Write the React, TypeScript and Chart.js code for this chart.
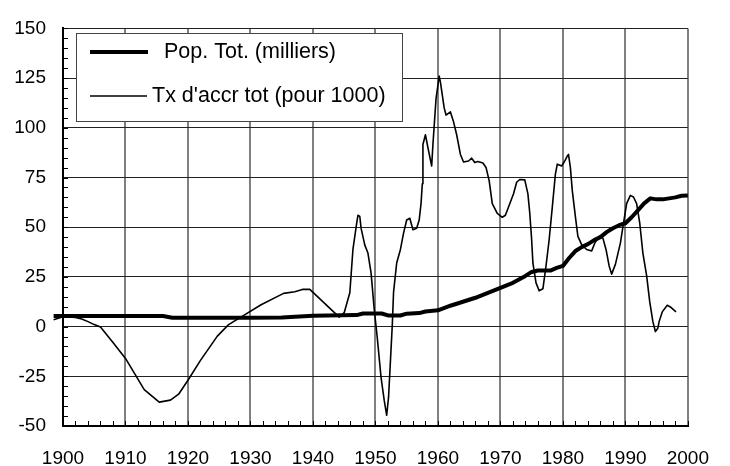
import React, { useEffect, useRef } from 'react';
import { Chart, registerables } from 'chart.js';

Chart.register(...registerables);

const xTickStart = 1900;
const xTickEnd = 2000;
const xTickStep = 10;
const yTickMin = -50;
const yTickMax = 150;
const yTickStep = 25;

const seriesLabels = ['Pop. Tot. (milliers)', "Tx d'accr tot (pour 1000)"];

const popYears = [1898.5, 1900, 1910, 1916, 1917.5, 1930, 1935, 1940, 1947, 1948, 1951, 1952, 1954, 1955, 1957, 1958, 1960, 1962, 1964, 1966, 1968, 1970, 1972, 1974, 1975, 1976, 1978, 1979, 1980, 1981, 1982, 1983, 1984, 1985, 1986, 1987, 1988, 1989, 1990, 1991, 1992, 1993, 1994, 1995, 1996, 1997, 1998, 1999, 2000];
const popValues = [5.3, 5.3, 5.3, 5.3, 4.5, 4.5, 4.6, 5.5, 5.8, 6.6, 6.6, 5.6, 5.6, 6.5, 6.8, 7.6, 8.2, 10.5, 12.5, 14.5, 17, 19.5, 22, 25.5, 27.5, 28.2, 28.2, 29.5, 30.5, 34.5, 38, 40, 41.5, 43.5, 45, 47.5, 49.5, 51, 52, 55, 58.5, 62, 64.5, 64, 64, 64.5, 65, 65.8, 66];

const txYears = [1898.5, 1900, 1902, 1903, 1904, 1905, 1906, 1908, 1910, 1913, 1915.4, 1917.2, 1918.5, 1920, 1922, 1924.7, 1926.5, 1928.6, 1931.7, 1935.3, 1937.1, 1938.3, 1939.5, 1944.2, 1945, 1945.9, 1946.4, 1947, 1947.2, 1947.5, 1947.7, 1948.3, 1948.8, 1949.3, 1949.8, 1950.3, 1950.9, 1951.4, 1951.8, 1952.1, 1952.4, 1952.7, 1952.9, 1953.4, 1954, 1954.5, 1955, 1955.5, 1956, 1956.6, 1957, 1957.3, 1957.5, 1957.6, 1958, 1958.4, 1959, 1959.2, 1959.7, 1960.2, 1960.4, 1961, 1961.3, 1962, 1962.5, 1963, 1963.6, 1964.1, 1964.9, 1965.4, 1965.9, 1966.4, 1967.2, 1967.7, 1968.2, 1968.7, 1969.5, 1970.3, 1970.8, 1971.3, 1972.1, 1972.6, 1973.1, 1973.9, 1974.4, 1974.7, 1975, 1975.2, 1975.7, 1976.2, 1976.8, 1977.3, 1977.8, 1978.3, 1978.8, 1979.1, 1979.8, 1980.3, 1980.7, 1980.9, 1981.2, 1981.5, 1982, 1982.4, 1983, 1983.8, 1984.6, 1985.1, 1985.8, 1986.4, 1986.9, 1987.4, 1987.8, 1988.4, 1989.2, 1989.7, 1990.2, 1990.8, 1991.3, 1991.8, 1992.3, 1992.8, 1993.4, 1993.9, 1994.4, 1994.8, 1995.2, 1995.4, 1995.9, 1996.7, 1997.2, 1998.1];
const txValues = [3.5, 5, 4.6, 3.8, 2.5, 1, -0.2, -8, -16, -31.7, -38, -37, -34, -27, -17, -4.8, 1, 5, 11, 16.7, 17.5, 18.7, 18.7, 4.8, 7, 17, 38.8, 52, 56, 55.4, 49.5, 41, 37, 27, 9, -5.8, -25.6, -37, -44.6, -35.5, -17.3, 1, 17.3, 32, 38.8, 47, 53.6, 54.5, 48.7, 49.5, 53.6, 62, 71.8, 91.6, 96.5, 90, 80.8, 91.6, 114.7, 126, 123, 110, 106.4, 108, 103, 96.5, 86.6, 82.8, 83.3, 84.7, 82.5, 83, 82.3, 80, 73.4, 61.9, 57, 55, 56, 60.2, 66.8, 72.6, 74, 73.8, 66.8, 57, 43.7, 32, 22, 18, 19, 30.5, 43.7, 60, 76.7, 81.7, 80.8, 83.3, 85.8, 86.6, 80, 68.5, 55.3, 45.4, 41.2, 38.8, 38, 42, 45.4, 44.5, 38.8, 30.5, 26.4, 31.3, 42, 52, 61.9, 66, 65.2, 61.9, 52, 37, 25.6, 12.4, 2.5, -2.5, -0.8, 2.5, 7.4, 10.7, 9.9, 7.4];

const FONT = "'Liberation Sans', Arial, sans-serif";

const minorTicksPlugin = {
  id: 'minorTicks',
  afterDatasetsDraw(chart: any) {
    const { ctx, chartArea, scales } = chart;
    const xs = scales.x;
    const ys = scales.y;
    ctx.save();
    ctx.strokeStyle = '#000';
    ctx.lineWidth = 1;
    ctx.beginPath();
    for (let v = yTickMin; v <= yTickMax; v += 5) {
      const y = Math.round(ys.getPixelForValue(v)) + 0.5;
      ctx.moveTo(chartArea.left, y);
      ctx.lineTo(chartArea.left + 5, y);
    }
    for (let v = xTickStart; v <= xTickEnd; v += 2) {
      const x = Math.round(xs.getPixelForValue(v)) + 0.5;
      ctx.moveTo(x, chartArea.bottom);
      ctx.lineTo(x, chartArea.bottom - 5);
    }
    ctx.stroke();
    ctx.restore();
  },
};

const boxLegendPlugin = {
  id: 'boxLegend',
  afterDraw(chart: any) {
    const { ctx } = chart;
    const datasets = chart.data.datasets;
    ctx.save();
    ctx.fillStyle = '#fff';
    ctx.fillRect(76, 33, 326, 88);
    ctx.strokeStyle = '#444';
    ctx.lineWidth = 1;
    ctx.strokeRect(76.5, 33.5, 326, 88);
    const rows = [
      { y: 52, x1: 90, x2: 148, tx: 164 },
      { y: 96, x1: 90, x2: 147, tx: 152 },
    ];
    rows.forEach((r, i) => {
      const ds = datasets[i];
      ctx.strokeStyle = ds.borderColor;
      ctx.lineWidth = ds.borderWidth;
      ctx.beginPath();
      ctx.moveTo(r.x1, r.y);
      ctx.lineTo(r.x2, r.y);
      ctx.stroke();
      ctx.fillStyle = '#000';
      ctx.font = `21.5px ${FONT}`;
      ctx.textBaseline = 'middle';
      ctx.textAlign = 'left';
      ctx.fillText(ds.label, r.tx, r.y);
    });
    ctx.restore();
  },
};

export default function App() {
  const ref = useRef<HTMLCanvasElement | null>(null);

  useEffect(() => {
    document.body.style.margin = '0';
    const canvas = ref.current;
    if (!canvas) return;
    const chart = new Chart(canvas, {
      type: 'line',
      data: {
        datasets: [
          {
            label: seriesLabels[0],
            data: popYears.map((x, i) => ({ x, y: popValues[i] })),
            borderColor: '#000',
            borderWidth: 4,
            pointRadius: 0,
            tension: 0,
            fill: false,
            clip: false as any,
            borderJoinStyle: 'round',
          },
          {
            label: seriesLabels[1],
            data: txYears.map((x, i) => ({ x, y: txValues[i] })),
            borderColor: '#000',
            borderWidth: 1.6,
            pointRadius: 0,
            tension: 0,
            fill: false,
            clip: false as any,
            borderJoinStyle: 'round',
          },
        ],
      },
      options: {
        responsive: false,
        animation: false,
        devicePixelRatio: 1,
        layout: { padding: { left: 0, right: 24, top: 22, bottom: 0 } },
        plugins: {
          legend: { display: false },
          tooltip: { enabled: false },
        },
        scales: {
          x: {
            type: 'linear',
            min: xTickStart,
            max: xTickEnd,
            afterFit: (s: any) => { s.height = 40; },
            ticks: {
              stepSize: xTickStep,
              color: '#000',
              font: { family: FONT, size: 19 },
              padding: 21,
              maxRotation: 0,
              autoSkip: false,
              callback: (v: any) => String(v),
            },
            grid: { color: '#808080', lineWidth: 2, drawTicks: false },
            border: { display: true, color: '#000', width: 2 },
          },
          y: {
            min: yTickMin,
            max: yTickMax,
            afterFit: (s: any) => { s.width = 63; },
            ticks: {
              stepSize: yTickStep,
              color: '#000',
              font: { family: FONT, size: 19 },
              padding: 17,
              callback: (v: any) => String(v),
            },
            grid: { color: '#222', lineWidth: 1, drawTicks: false },
            border: { display: true, color: '#000', width: 2 },
          },
        },
      },
      plugins: [minorTicksPlugin, boxLegendPlugin],
    });
    return () => chart.destroy();
  }, []);

  return (
    <canvas
      ref={ref}
      width={730}
      height={466}
      style={{ display: 'block', width: 730, height: 466 }}
    />
  );
}
